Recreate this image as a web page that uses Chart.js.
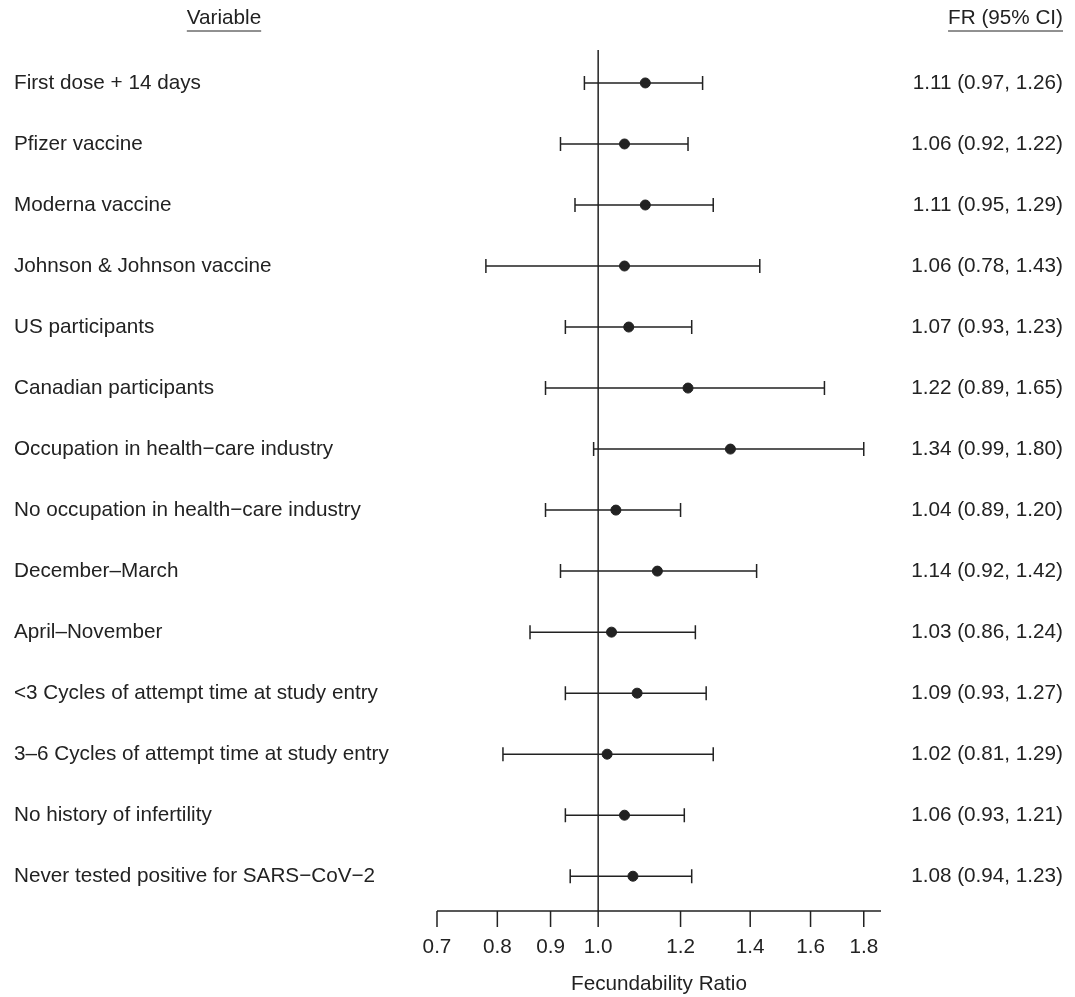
<!DOCTYPE html>
<html>
<head>
<meta charset="utf-8">
<script src="https://cdn.jsdelivr.net/npm/chart.js@4"></script>
<style>
  html, body { margin: 0; padding: 0; background: #fff; }
  #wrap { width: 1075px; height: 997px; }
</style>
</head>
<body>
<div id="wrap"><canvas id="c" width="1075" height="997"></canvas></div>
<script>
// Data
const variables = [
  'First dose + 14 days',
  'Pfizer vaccine',
  'Moderna vaccine',
  'Johnson & Johnson vaccine',
  'US participants',
  'Canadian participants',
  'Occupation in health\u2212care industry',
  'No occupation in health\u2212care industry',
  'December\u2013March',
  'April\u2013November',
  '<3 Cycles of attempt time at study entry',
  '3\u20136 Cycles of attempt time at study entry',
  'No history of infertility',
  'Never tested positive for SARS\u2212CoV\u22122'
];
const estimates = [1.11, 1.06, 1.11, 1.06, 1.07, 1.22, 1.34, 1.04, 1.14, 1.03, 1.09, 1.02, 1.06, 1.08];
const lower = [0.97, 0.92, 0.95, 0.78, 0.93, 0.89, 0.99, 0.89, 0.92, 0.86, 0.93, 0.81, 0.93, 0.94];
const upper = [1.26, 1.22, 1.29, 1.43, 1.23, 1.65, 1.80, 1.20, 1.42, 1.24, 1.27, 1.29, 1.21, 1.23];
const xTicks = [0.7, 0.8, 0.9, 1.0, 1.2, 1.4, 1.6, 1.8];

const FONT = '20.7px "Liberation Sans", Arial, sans-serif';
const INK = '#222';

const forestPlugin = {
    id: 'forest',
    afterDatasetsDraw(chart) {
        const ctx = chart.ctx;
        const x = chart.scales.x;
        const y = chart.scales.y;
        const area = chart.chartArea;
        ctx.save();
        ctx.strokeStyle = INK;
        ctx.fillStyle = INK;
        ctx.lineWidth = 1.5;

        // reference line at 1.0
        const x1 = x.getPixelForValue(1);
        ctx.beginPath();
        ctx.moveTo(x1, area.top);
        ctx.lineTo(x1, area.bottom);
        ctx.stroke();

        // confidence intervals
        estimates.forEach((v, i) => {
            const py = y.getPixelForValue(i);
            const a = x.getPixelForValue(lower[i]);
            const b = x.getPixelForValue(upper[i]);
            ctx.beginPath();
            ctx.moveTo(a, py); ctx.lineTo(b, py);
            ctx.moveTo(a, py - 7); ctx.lineTo(a, py + 7);
            ctx.moveTo(b, py - 7); ctx.lineTo(b, py + 7);
            ctx.stroke();
        });

        // x axis
        ctx.beginPath();
        ctx.moveTo(area.left, area.bottom);
        ctx.lineTo(area.right, area.bottom);
        xTicks.forEach(t => {
            const px = x.getPixelForValue(t);
            ctx.moveTo(px, area.bottom);
            ctx.lineTo(px, area.bottom + 16);
        });
        ctx.stroke();

        ctx.font = FONT;
        ctx.textAlign = 'center';
        ctx.textBaseline = 'middle';
        xTicks.forEach(t => {
            ctx.fillText(t.toFixed(1), x.getPixelForValue(t), area.bottom + 36);
        });
        ctx.fillText('Fecundability Ratio', (area.left + area.right) / 2, area.bottom + 73);

        // text columns
        ctx.textAlign = 'left';
        variables.forEach((name, i) => {
            ctx.fillText(name, 14, y.getPixelForValue(i));
        });
        ctx.textAlign = 'right';
        estimates.forEach((v, i) => {
            const s = v.toFixed(2) + ' (' + lower[i].toFixed(2) + ', ' + upper[i].toFixed(2) + ')';
            ctx.fillText(s, 1063, y.getPixelForValue(i));
        });

        // headers
        ctx.textAlign = 'center';
        ctx.fillText('Variable', 224, 18);
        let w = ctx.measureText('Variable').width;
        ctx.lineWidth = 1;
        ctx.beginPath();
        ctx.moveTo(224 - w / 2, 31); ctx.lineTo(224 + w / 2, 31);
        ctx.stroke();
        ctx.textAlign = 'right';
        ctx.fillText('FR (95% CI)', 1063, 18);
        w = ctx.measureText('FR (95% CI)').width;
        ctx.beginPath();
        ctx.moveTo(1063 - w, 31); ctx.lineTo(1063, 31);
        ctx.stroke();
        ctx.restore();
    }
};

new Chart(document.getElementById('c'), {
    type: 'scatter',
    data: {
        datasets: [{
            data: estimates.map((v, i) => ({ x: v, y: i })),
            backgroundColor: INK,
            borderColor: INK,
            pointRadius: 5,
            pointHoverRadius: 5
        }]
    },
    options: {
        responsive: false,
        animation: false,
        layout: { padding: { left: 437, right: 194, top: 50, bottom: 86 } },
        plugins: { legend: { display: false }, tooltip: { enabled: false } },
        scales: {
            x: { type: 'logarithmic', min: 0.7, max: 1.87, display: false },
            y: { type: 'linear', min: -0.54, max: 13.57, reverse: true, display: false }
        }
    },
    plugins: [forestPlugin]
});
</script>
</body>
</html>
